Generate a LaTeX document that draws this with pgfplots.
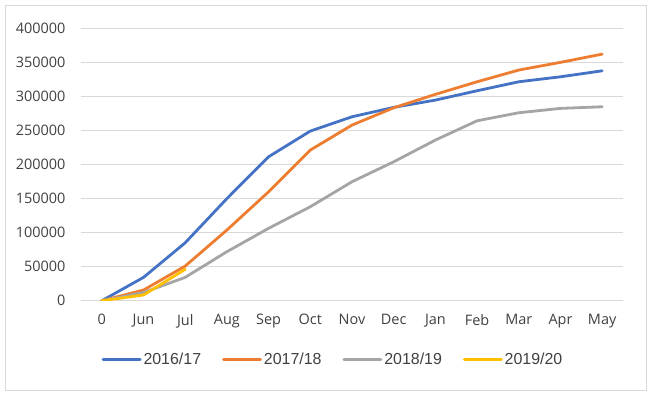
\documentclass[border=0pt]{standalone}
\usepackage{pgfplots}
\pgfplotsset{compat=1.18}
\usepackage{fontspec}
\setmainfont{Open Sans}
\newfontfamily\legfont{Liberation Sans}
\definecolor{cblue}{HTML}{4472C4}
\definecolor{corange}{HTML}{ED7D31}
\definecolor{cgray}{HTML}{A5A5A5}
\definecolor{cyellow}{HTML}{FFC000}
\definecolor{cgrid}{HTML}{D9D9D9}
\definecolor{ctext}{HTML}{404040}
\begin{document}
\begin{tikzpicture}[x=1bp,y=1bp]
\useasboundingbox (0,0) rectangle (650,-394);
\draw[cgrid, line width=0.8bp] (5,-5) rectangle (646,-390);
\begin{axis}[
  at={(81bp,-300.7bp)}, anchor=south west,
  scale only axis, width=542bp, height=272.4bp,
  xmin=-0.5, xmax=12.5, ymin=0, ymax=400000,
  xtick={0,...,12},
  xticklabels={0,Jun,Jul,Aug,Sep,Oct,Nov,Dec,Jan,Feb,Mar,Apr,May},
  ytick={0,50000,...,400000},
  scaled y ticks=false,
  /pgf/number format/.cd, fixed, 1000 sep={}, assume math mode=true, /pgfplots/.cd,
  major tick length=0pt,
  axis line style={draw=none},
  ymajorgrids, major grid style={cgrid, line width=1bp},
  tick label style={font=\fontsize{14.5}{17}\selectfont, text=ctext},
  yticklabel style={xshift=-12bp},
  xticklabel style={yshift=-10bp},
  legend columns=4,
  legend style={draw=none, fill=none, at={(0.465,-0.215)}, anchor=center,
    font=\legfont\fontsize{16}{19}\selectfont, text=ctext,
    /tikz/every even column/.append style={column sep=19bp},
    inner sep=0pt},
  legend image code/.code={\draw[#1] plot coordinates {(0bp,0bp) (37bp,0bp)};},
  every axis plot/.append style={line width=2.8bp, line join=round, line cap=round},
]
\addplot[cblue] coordinates {(0,0) (1,34300) (2,85100) (3,150000) (4,211400) (5,249100) (6,270100) (7,283900) (8,294600) (9,308300) (10,321500) (11,328800) (12,337600)};
\addlegendentry{2016/17}
\addplot[corange] coordinates {(0,0) (1,15700) (2,50900) (3,103800) (4,160000) (5,221200) (6,257900) (7,283300) (8,303000) (9,321500) (10,338700) (11,350000) (12,362100)};
\addlegendentry{2017/18}
\addplot[cgray] coordinates {(0,0) (1,12000) (2,34300) (3,72000) (4,106300) (5,138000) (6,174700) (7,204000) (8,235900) (9,264200) (10,276000) (11,282400) (12,284800)};
\addlegendentry{2018/19}
\addplot[cyellow] coordinates {(0,0) (1,8400) (2,46100)};
\addlegendentry{2019/20}
\end{axis}
\end{tikzpicture}
\end{document}
